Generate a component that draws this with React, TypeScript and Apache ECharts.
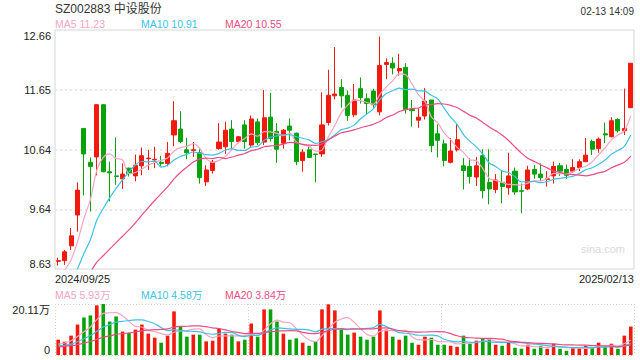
import React, { useEffect, useRef } from "react";
import * as echarts from "echarts";

const dates = [
  "2024/09/25", "2024/09/26", "2024/09/27", "2024/09/30",
  "2024/10/08", "2024/10/09", "2024/10/10", "2024/10/11", "2024/10/14", "2024/10/15", "2024/10/16", "2024/10/17", "2024/10/18",
  "2024/10/21", "2024/10/22", "2024/10/23", "2024/10/24", "2024/10/25", "2024/10/28", "2024/10/29", "2024/10/30", "2024/10/31",
  "2024/11/01", "2024/11/04", "2024/11/05", "2024/11/06", "2024/11/07", "2024/11/08", "2024/11/11", "2024/11/12", "2024/11/13",
  "2024/11/14", "2024/11/15", "2024/11/18", "2024/11/19", "2024/11/20", "2024/11/21", "2024/11/22", "2024/11/25", "2024/11/26",
  "2024/11/27", "2024/11/28", "2024/11/29",
  "2024/12/02", "2024/12/03", "2024/12/04", "2024/12/05", "2024/12/06", "2024/12/09", "2024/12/10", "2024/12/11", "2024/12/12",
  "2024/12/13", "2024/12/16", "2024/12/17", "2024/12/18", "2024/12/19", "2024/12/20", "2024/12/23", "2024/12/24", "2024/12/25",
  "2024/12/26", "2024/12/27", "2024/12/30", "2024/12/31",
  "2025/01/02", "2025/01/03", "2025/01/06", "2025/01/07", "2025/01/08", "2025/01/09", "2025/01/10", "2025/01/13", "2025/01/14",
  "2025/01/15", "2025/01/16", "2025/01/17", "2025/01/20", "2025/01/21", "2025/01/22", "2025/01/23", "2025/01/24", "2025/01/27",
  "2025/02/05", "2025/02/06", "2025/02/07", "2025/02/10", "2025/02/11", "2025/02/12", "2025/02/13",
];

const opens = [
  8.76, 8.77, 9.02, 9.54, 11.0, 10.43, 10.52, 11.4, 10.27, 10.2,
  10.15, 10.33, 10.2, 10.37, 10.49, 10.47, 10.43, 10.41, 10.89, 10.99,
  10.64, 10.63, 10.59, 10.1, 10.29, 10.66, 10.69, 10.99, 10.78, 11.06,
  10.72, 11.11, 10.77, 11.19, 10.95, 10.75, 11.04, 10.92, 10.46, 10.64,
  10.57, 10.57, 11.1, 11.55, 11.69, 11.56, 11.23, 11.67, 11.5, 11.63,
  11.28, 12.08, 12.1, 11.97, 12.03, 11.32, 11.14, 11.21, 11.48, 10.91,
  10.74, 10.43, 10.64, 10.37, 10.36, 10.18, 10.54, 10.09, 9.97, 10.09,
  10.0, 10.28, 9.95, 9.98, 10.31, 10.23, 10.14, 10.2, 10.37, 10.31,
  10.28, 10.34, 10.44, 10.78, 10.66, 10.91, 10.86, 11.15, 10.96, 11.35,
];
const closes = [
  8.77, 8.92, 9.19, 9.96, 10.57, 10.36, 11.4, 10.27, 10.25, 10.19,
  10.23, 10.24, 10.38, 10.54, 10.5, 10.48, 10.41, 10.58, 11.13, 10.78,
  10.59, 10.64, 10.17, 10.3, 10.43, 10.77, 10.97, 10.78, 10.86, 10.78,
  11.16, 10.76, 11.18, 10.83, 10.65, 10.97, 10.97, 10.44, 10.6, 10.51,
  10.56, 11.06, 11.56, 11.58, 11.55, 11.22, 11.48, 11.52, 11.42, 11.4,
  12.06, 12.11, 12.02, 12.01, 11.32, 11.3, 11.19, 11.46, 10.71, 10.8,
  10.46, 10.62, 10.81, 10.29, 10.19, 10.37, 9.95, 9.98, 10.13, 10.02,
  10.2, 9.93, 9.94, 10.3, 10.23, 10.17, 10.15, 10.36, 10.28, 10.21,
  10.34, 10.44, 10.55, 10.65, 10.82, 10.89, 11.13, 10.96, 11.0, 12.1,
];
const lows = [
  8.69, 8.7, 8.95, 9.26, 9.87, 9.6, 10.21, 10.26, 9.77, 10.05,
  9.98, 10.19, 10.11, 10.21, 10.3, 10.33, 10.36, 10.36, 10.7, 10.75,
  10.48, 10.52, 10.07, 10.03, 10.24, 10.64, 10.57, 10.66, 10.75, 10.66,
  10.69, 10.72, 10.72, 10.78, 10.42, 10.66, 10.8, 10.38, 10.27, 10.5,
  10.09, 10.52, 11.05, 11.49, 11.35, 11.13, 11.19, 11.42, 11.23, 11.35,
  11.22, 11.83, 11.91, 11.89, 11.25, 11.03, 11.01, 11.15, 10.6, 10.51,
  10.36, 10.41, 10.61, 9.97, 10.07, 10.03, 9.82, 9.72, 9.91, 9.74,
  9.88, 9.88, 9.57, 9.96, 10.15, 10.11, 10.02, 10.07, 10.2, 10.15,
  10.25, 10.28, 10.43, 10.55, 10.59, 10.75, 10.85, 10.93, 10.89, 11.35,
];
const highs = [
  8.82, 8.95, 9.32, 10.09, 11.0, 10.51, 11.41, 11.41, 10.44, 10.85,
  10.41, 10.34, 10.56, 10.68, 10.64, 10.69, 10.54, 10.77, 11.46, 11.29,
  10.84, 10.77, 10.65, 10.38, 10.47, 11.09, 11.11, 11.14, 10.87, 11.14,
  11.22, 11.17, 11.65, 11.6, 11.09, 10.99, 11.17, 10.93, 10.65, 10.71,
  10.57, 11.61, 11.99, 12.37, 11.83, 11.64, 11.75, 11.86, 11.59, 11.67,
  12.55, 12.18, 12.2, 12.26, 12.1, 11.48, 11.34, 11.68, 11.48, 11.07,
  10.81, 10.84, 11.07, 10.5, 10.5, 10.52, 10.65, 10.65, 10.23, 10.29,
  10.59, 10.34, 10.07, 10.37, 10.38, 10.41, 10.28, 10.44, 10.42, 10.39,
  10.48, 10.48, 10.84, 10.81, 10.85, 11.1, 11.19, 11.17, 11.67, 12.1,
];
// volume in 万手
const volumes = [
  6.04, 5.24, 7.63, 12.01, 14.8, 15.6, 19.58, 20.11, 13.21, 15.2,
  9.23, 8.69, 10.02, 12.01, 8.43, 6.84, 4.85, 7.63, 17.19, 11.08,
  7.23, 8.03, 8.03, 5.38, 5.64, 10.42, 8.43, 8.03, 5.38, 6.04,
  12.41, 7.23, 17.99, 17.99, 13.21, 8.43, 6.04, 6.57, 4.85, 3.65,
  5.38, 17.99, 19.98, 17.59, 10.02, 8.03, 8.83, 7.23, 6.04, 7.23,
  17.59, 10.02, 7.23, 6.04, 7.63, 4.85, 4.05, 7.23, 6.84, 4.05,
  4.05, 3.65, 3.25, 7.63, 4.45, 5.64, 6.44, 6.44, 4.05, 3.65,
  4.85, 2.85, 2.46, 4.05, 2.46, 3.65, 2.46, 4.45, 2.46, 1.66,
  2.85, 2.59, 3.65, 2.85, 4.85, 3.25, 4.45, 2.46, 7.63, 11.22,
];
// estimated sessions before the window (feed the moving averages only)
const priorCloses = [8.3, 8.25, 8.2, 8.2, 8.15, 8.1, 8.1, 8.05, 8.0, 8.05, 8.1, 8.0, 7.95, 8.0, 8.05, 8.1, 8.3, 8.45, 8.6];
const priorVolumes = [3.2, 2.9, 3.4, 3.0, 2.8, 3.1, 3.3, 2.9, 3.0, 2.8, 3.1, 2.9, 2.7, 3.0, 3.2, 2.9, 3.3, 3.6, 5.5];

const priceTicks = ["8.63", "9.64", "10.64", "11.65", "12.66"];
const priceMin = 8.63;
const priceMax = 12.66;
const volTicks = ["0", "20.11万"];
const volMax = 20.11;
const xTicks = ["2024/09/25", "2025/02/13"];

const titleText = "SZ002883 中设股份";
const timeText = "02-13 14:09";
const priceLegend = ["MA5 11.23", "MA10 10.91", "MA20 10.55"];
const volLegend = ["MA5 5.93万", "MA10 4.58万", "MA20 3.84万"];

const RED = "#f2190d";
const GREEN = "#0aa20a";
const MA_COLORS = ["#f8a5c3", "#3cc3e4", "#ed4c82"];
const FONT = "'Liberation Sans', Arial, 'Noto Sans CJK SC', sans-serif";

function movingAvg(vals: number[], prior: number[], n: number) {
  const all = prior.concat(vals);
  return vals.map((_, i) => {
    const idx = prior.length + i;
    let s = 0;
    for (let k = idx - n + 1; k <= idx; k++) s += all[k];
    return +(s / n).toFixed(3);
  });
}

export default function App() {
  const ref = useRef<HTMLDivElement>(null);
  useEffect(() => {
    const chart = echarts.init(ref.current!, null, { renderer: "svg" });
    const up = (i: number) => closes[i] >= opens[i];
    const periods = [5, 10, 20];
    const priceMA = periods.map((n) => movingAvg(closes, priorCloses, n));
    const volMA = periods.map((n) => movingAvg(volumes, priorVolumes, n));

    const legendX = [55, 141, 225];
    const graphic: any[] = [
      { type: "text", x: 55, y: 9, style: { text: titleText, fill: "#333", font: `12px ${FONT}`, verticalAlign: "middle", align: "left" } },
      { type: "text", x: 634, y: 11.5, style: { text: timeText, fill: "#333", font: `10px ${FONT}`, verticalAlign: "middle", align: "right" } },
      { type: "text", x: 603, y: 249, z: 0, style: { text: "sina.com", fill: "#d8d8d8", font: `11px ${FONT}`, verticalAlign: "middle", align: "center" } },
    ];
    priceLegend.forEach((t, k) =>
      graphic.push({ type: "text", x: legendX[k], y: 24, style: { text: t, fill: MA_COLORS[k], font: `10.5px ${FONT}`, verticalAlign: "middle", align: "left" } })
    );
    volLegend.forEach((t, k) =>
      graphic.push({ type: "text", x: legendX[k], y: 295, style: { text: t, fill: MA_COLORS[k], font: `10.5px ${FONT}`, verticalAlign: "middle", align: "left" } })
    );

    const hidden = { axisLine: { show: false }, axisTick: { show: false }, axisLabel: { show: false }, splitLine: { show: false } };
    const dotted = { color: "#d0d0d0", type: [1, 2] as any, width: 1 };

    chart.setOption({
      animation: false,
      backgroundColor: "#fff",
      textStyle: { fontFamily: FONT },
      graphic,
      grid: [
        { left: 55, right: 6, top: 30, height: 239, show: true, borderColor: "#d6d6d6", borderWidth: 1, backgroundColor: "transparent" },
        { left: 55, right: 6, top: 304, height: 51 },
      ],
      xAxis: [
        { type: "category", gridIndex: 0, position: "top", data: dates, boundaryGap: true, ...hidden },
        {
          type: "value", gridIndex: 0, position: "bottom", min: 0, max: xTicks.length - 1, interval: 1,
          axisLine: { show: false }, axisTick: { show: false }, splitLine: { show: false },
          axisLabel: {
            formatter: (v: number) => xTicks[v], color: "#222", fontSize: 11, margin: 4,
            alignMinLabel: "left", alignMaxLabel: "right",
          },
        },
        { type: "category", gridIndex: 1, position: "top", data: dates, boundaryGap: true, ...hidden },
        {
          type: "value", gridIndex: 1, position: "bottom", min: 0, max: 3, interval: 1,
          axisLine: { show: false }, axisTick: { show: false }, axisLabel: { show: false },
          splitLine: { show: true, lineStyle: dotted },
        },
      ],
      yAxis: [
        { type: "value", gridIndex: 0, position: "right", min: priceMin, max: priceMax, ...hidden },
        {
          type: "value", gridIndex: 0, position: "left", min: 0, max: priceTicks.length - 1, interval: 1,
          axisLine: { show: false }, axisTick: { show: false },
          axisLabel: {
            formatter: (v: number) => priceTicks[v], color: "#222", fontSize: 11, margin: 4,
            verticalAlignMinLabel: "bottom", verticalAlignMaxLabel: "top",
          },
          splitLine: { show: true, showMinLine: false, showMaxLine: false, lineStyle: { color: "#e8e8e8", type: [2, 3], width: 2 } },
        },
        { type: "value", gridIndex: 1, position: "right", min: 0, max: volMax, ...hidden },
        {
          type: "value", gridIndex: 1, position: "left", min: 0, max: volTicks.length - 1, interval: 1,
          axisLine: { show: false }, axisTick: { show: false },
          axisLabel: {
            formatter: (v: number) => volTicks[v], color: "#222", fontSize: 11, margin: 5,
            verticalAlignMinLabel: "bottom", verticalAlignMaxLabel: "top",
          },
          splitLine: { show: true, lineStyle: dotted },
        },
      ],
      series: [
        {
          type: "candlestick", xAxisIndex: 0, yAxisIndex: 0, barWidth: 4.6,
          data: dates.map((_, i) => [opens[i], closes[i], lows[i], highs[i]]),
          itemStyle: { color: RED, color0: GREEN, borderColor: RED, borderColor0: GREEN, borderWidth: 1 },
        },
        ...priceMA.map((d, k) => ({
          type: "line", xAxisIndex: 0, yAxisIndex: 0, data: d, showSymbol: false, smooth: 0.3,
          lineStyle: { color: MA_COLORS[k], width: 1.2 }, z: 3, clip: true,
        })),
        {
          type: "bar", xAxisIndex: 2, yAxisIndex: 2, barWidth: 3.6,
          data: volumes.map((v, i) => ({ value: v, itemStyle: { color: up(i) ? RED : GREEN } })),
        },
        ...volMA.map((d, k) => ({
          type: "line", xAxisIndex: 2, yAxisIndex: 2, data: d, showSymbol: false, smooth: 0.3,
          lineStyle: { color: MA_COLORS[k], width: 1.2 }, z: 3, clip: true,
        })),
      ],
    });
    return () => chart.dispose();
  }, []);
  return <div ref={ref} style={{ position: "fixed", left: 0, top: 0, width: 640, height: 360 }} />;
}
